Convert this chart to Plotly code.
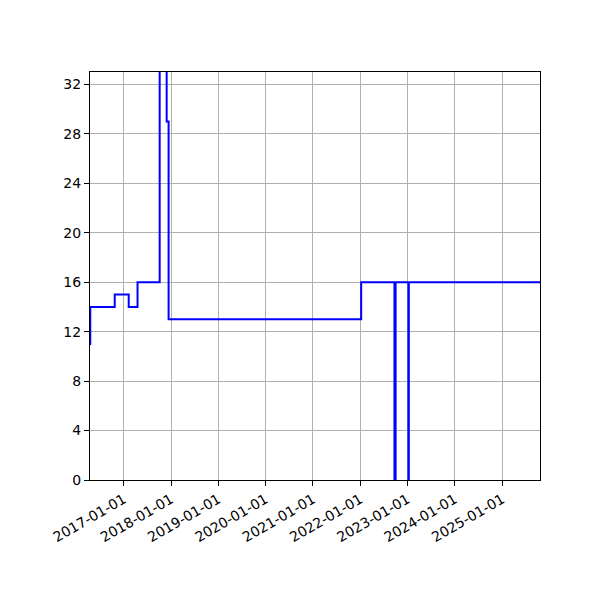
import plotly.graph_objects as go

# valeurs (fonction en escalier)
dates = [
    "2016-04-15", "2016-04-17", "2016-10-23", "2017-02-08", "2017-04-17",
    "2017-10-05", "2017-11-28", "2017-12-06", "2017-12-13", "2022-01-08",
    "2022-09-22", "2022-10-01", "2023-01-08", "2023-01-11", "2025-10-20",
]
valeurs = [11, 14, 15, 14, 16, 40, 29, 29, 13, 16, 0, 16, 0, 16, 16]

y_ticks = [0, 4, 8, 12, 16, 20, 24, 28, 32]

fig = go.Figure()
fig.add_trace(go.Scatter(x=dates, y=valeurs, mode="lines", line_shape="hv",
                         line=dict(color="blue", width=2)))

axe = dict(showline=True, linecolor="black", linewidth=1, mirror=True,
           showgrid=True, gridcolor="#b0b0b0", gridwidth=1,
           ticks="outside", ticklen=5, tickcolor="black", zeroline=False)

# la page ajoute ~8px de marge au body, d'ou les marges decalees
fig.update_layout(
    width=600, height=600,
    margin=dict(l=82, r=68, t=64, b=128),
    plot_bgcolor="white", paper_bgcolor="white",
    showlegend=False,
    font=dict(family="DejaVu Sans", size=14, color="black"),
    xaxis=dict(axe, type="date", range=["2016-04-15", "2025-10-20"],
               tick0="2017-01-01", dtick="M12", tickformat="%Y-%m-%d",
               tickangle=-30),
    yaxis=dict(axe, range=[0, 33], tickvals=y_ticks),
)
fig.write_html("out.html")
